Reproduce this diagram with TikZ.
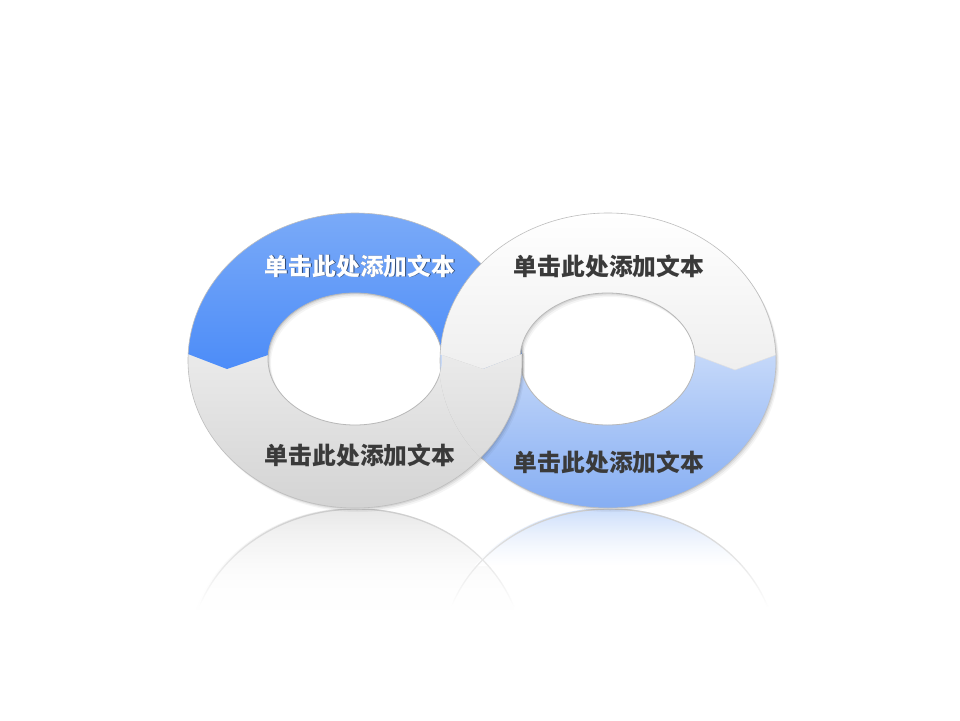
\documentclass[tikz,border=0pt]{standalone}
\usepackage{fontspec}
\newfontfamily\cjk{Noto Sans CJK SC}
\usetikzlibrary{fadings}
\tikzfading[name=fadeup, top color=transparent!100, bottom color=transparent!0]
\definecolor{txtgray}{HTML}{3A3A3A}
\definecolor{blueA}{HTML}{7AAAF8}
\definecolor{blueB}{HTML}{2472F9}
\definecolor{lblueA}{HTML}{D8E6FC}
\definecolor{lblueB}{HTML}{86AEF3}
\definecolor{rim}{HTML}{BDBDBD}
\tikzset{
  lbl/.style={font=\cjk\bfseries\fontsize{23.8}{26}\selectfont, text=txtgray, inner sep=0pt},
  lblw/.style={lbl, text=white},
  lbls/.style={lbl, text=black, opacity=0.55},
  ringshadow/.style={fill=black, even odd rule},
  leftgray/.style={even odd rule, top color=white, bottom color=black!17},
  rightgray/.style={even odd rule, top color=white, bottom color=black!12},
  leftblue/.style={even odd rule, top color=blueA, middle color=blueB, bottom color=blueB},
  rightblue/.style={even odd rule, top color=white, middle color=lblueA, bottom color=lblueB},
  holeedge/.style={draw=black!28, line width=0.8pt},
  outeredge/.style={draw=rim, line width=0.6pt},
}
\def\LO{(355,360.5) ellipse [x radius=167pt, y radius=147.5pt]}
\def\LI{(355,359) ellipse [x radius=87pt, y radius=66pt]}
\def\RO{(608,360.5) ellipse [x radius=168pt, y radius=147.5pt]}
\def\RI{(607.5,359) ellipse [x radius=87.5pt, y radius=66pt]}
\begin{document}
\begin{tikzpicture}[x=1pt,y=-1pt]
\useasboundingbox (0,0) rectangle (960,720);
\fill[white] (0,0) rectangle (960,720);

% ---------- reflections ----------
\begin{scope}
  \clip (355,655.5) ellipse [x radius=167pt, y radius=147.5pt];
  \shade[top color=black!9, bottom color=white] (180,509) rectangle (530,612);
\end{scope}
\begin{scope}
  \clip (608,655.5) ellipse [x radius=168pt, y radius=147.5pt];
  \shade[top color=lblueA!85!lblueB, bottom color=white] (430,509) rectangle (790,565);
\end{scope}
\begin{scope}
  \clip (150,509) rectangle (800,606);
  \draw[black!20, line width=1.3pt] (356.5,656.5) ellipse [x radius=167pt, y radius=147.5pt];
  \draw[black!20, line width=1.3pt] (609.5,656.5) ellipse [x radius=168pt, y radius=147.5pt];
\end{scope}
\fill[white, path fading=fadeup] (150,509) rectangle (800,607);

% ---------- left ring ----------
\begin{scope}[shift={(3,4)}] \fill[ringshadow, opacity=0.04] \LO \LI; \end{scope}
\begin{scope}[shift={(2,2.5)}] \fill[ringshadow, opacity=0.06] \LO \LI; \end{scope}
\begin{scope}[shift={(1,1.2)}] \fill[ringshadow, opacity=0.07] \LO \LI; \end{scope}
\shade[leftgray] \LO \LI;
\begin{scope}
  \clip (150,180) -- (150,339.4) -- (227,369) -- (268,355) -- (442,355) -- (483,369) -- (560,339.4) -- (560,180) -- cycle;
  \shade[leftblue] \LO \LI;
\end{scope}
\draw[outeredge] \LO;
\draw[holeedge] \LI;

% ---------- right ring ----------
\begin{scope}[shift={(3,4)}] \fill[ringshadow, opacity=0.04] \RO \RI; \end{scope}
\begin{scope}[shift={(2,2.5)}] \fill[ringshadow, opacity=0.06] \RO \RI; \end{scope}
\begin{scope}[shift={(1,1.2)}] \fill[ringshadow, opacity=0.07] \RO \RI; \end{scope}
\shade[rightgray] \RO \RI;
\begin{scope}
  \clip (400,339) -- (480,370) -- (520,355) -- (695,355) -- (735,370) -- (820,339) -- (820,560) -- (400,560) -- cycle;
  \shade[rightblue] \RO \RI;
\end{scope}
\draw[black!12, line width=0.5pt] (695,355) -- (735,370) -- (776,355);
\draw[outeredge] \RO;
\draw[holeedge] \RI;

% ---------- left ring lower part over the right ring ----------
\begin{scope}
  \clip (430,350.9) -- (442,355) -- (483,369) -- (545,345) -- (545,525) -- (430,525) -- cycle;
  \clip (608,360.5) ellipse [x radius=169pt, y radius=148.5pt];
  \begin{scope}[shift={(3,4)}] \fill[ringshadow, opacity=0.04] \LO \LI; \end{scope}
  \begin{scope}[shift={(2,2.5)}] \fill[ringshadow, opacity=0.06] \LO \LI; \end{scope}
  \begin{scope}[shift={(1,1.2)}] \fill[ringshadow, opacity=0.07] \LO \LI; \end{scope}
  \shade[leftgray] \LO \LI;
  \draw[outeredge] \LO;
\end{scope}

% ---------- labels ----------
\node[lbls] (t1s) at (360.8,266.8) {单击此处添加文本};
\node[lblw] (t1) at (360,266) {单击此处添加文本};
\node[lbl] (t2) at (609,266) {单击此处添加文本};
\node[lbl] (t3) at (360,455) {单击此处添加文本};
\node[lbl] (t4) at (609,462) {单击此处添加文本};
\end{tikzpicture}
\end{document}
